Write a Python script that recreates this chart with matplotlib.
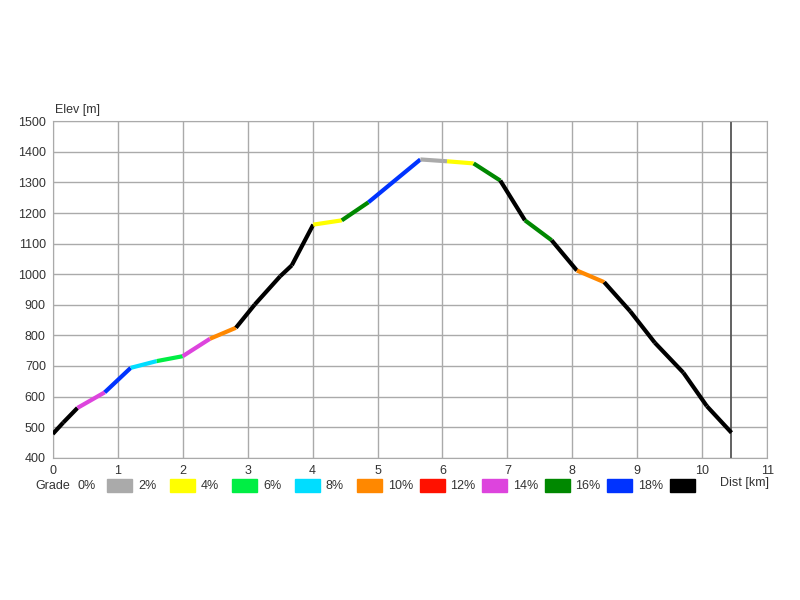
import matplotlib.pyplot as plt
from matplotlib.patches import Rectangle

plt.rcParams['font.family'] = ['Liberation Sans', 'DejaVu Sans']

# profile points (km, m)
dist = [0, 0.16, 0.38, 0.80, 1.20, 1.60, 2.00, 2.42, 2.82, 3.11, 3.50, 3.68, 4.01,
        4.45, 4.86, 5.66, 6.07, 6.48, 6.89, 7.27, 7.68, 8.07, 8.49, 8.89, 9.27,
        9.71, 10.07, 10.45]
elev = [478, 515, 563, 614, 694, 716, 732, 789, 825, 901, 993, 1029, 1162,
        1176, 1235, 1375, 1369, 1362, 1306, 1176, 1111, 1012, 974, 879, 776,
        678, 569, 482]
# grade class of each segment (index into grade_colors)
seg_class = [9, 9, 6, 8, 3, 2, 6, 4, 9, 9, 9, 9, 1, 7, 8, 0, 1, 7, 9, 7, 9, 4,
             9, 9, 9, 9, 9]

grade_labels = ['0%', '2%', '4%', '6%', '8%', '10%', '12%', '14%', '16%', '18%']
grade_colors = ['#aaaaaa', '#ffff00', '#00ee44', '#00ddff', '#ff8800',
                '#ff1100', '#dd44dd', '#008800', '#0033ff', '#000000']
end_dist = 10.45

fig = plt.figure(figsize=(8, 6), dpi=100)
ax = fig.add_axes([0.066, 0.237, 0.893, 0.561])

for i, c in enumerate(seg_class):
    ax.plot(dist[i:i + 2], elev[i:i + 2], color=grade_colors[c], lw=3,
            solid_capstyle='butt', zorder=3)

ax.axvline(end_dist, color='#555555', lw=1.3, zorder=2)

ax.set_xlim(0, 11)
ax.set_ylim(400, 1500)
ax.set_xticks(range(0, 12))
ax.set_yticks(range(400, 1501, 100))
ax.grid(True, color='#aaaaaa', lw=1)
ax.set_axisbelow(True)
ax.tick_params(length=0, labelsize=9, labelcolor='#333333', pad=5)
for s in ax.spines.values():
    s.set_color('#aaaaaa')

fig.text(55 / 800, 1 - 110 / 600, 'Elev [m]', fontsize=9, color='#333333',
         va='center', ha='left')
fig.text(720 / 800, 1 - 483 / 600, 'Dist [km]', fontsize=9, color='#333333',
         va='center', ha='left')

# grade legend row
y_mid = 1 - 486 / 600
fig.text(35 / 800, y_mid, 'Grade', fontsize=9, color='#333333', va='center')
fig.text(77 / 800, y_mid, grade_labels[0], fontsize=9, color='#333333', va='center')
for i, col in enumerate(grade_colors):
    x0 = 107 + i * 62.5
    fig.patches.append(Rectangle((x0 / 800, 1 - 492 / 600), 25 / 800, 13 / 600,
                                 transform=fig.transFigure, color=col))
    if i + 1 < len(grade_labels):
        fig.text((x0 + 31) / 800, y_mid, grade_labels[i + 1], fontsize=9,
                 color='#333333', va='center')

fig.savefig('out.png', dpi=100)
